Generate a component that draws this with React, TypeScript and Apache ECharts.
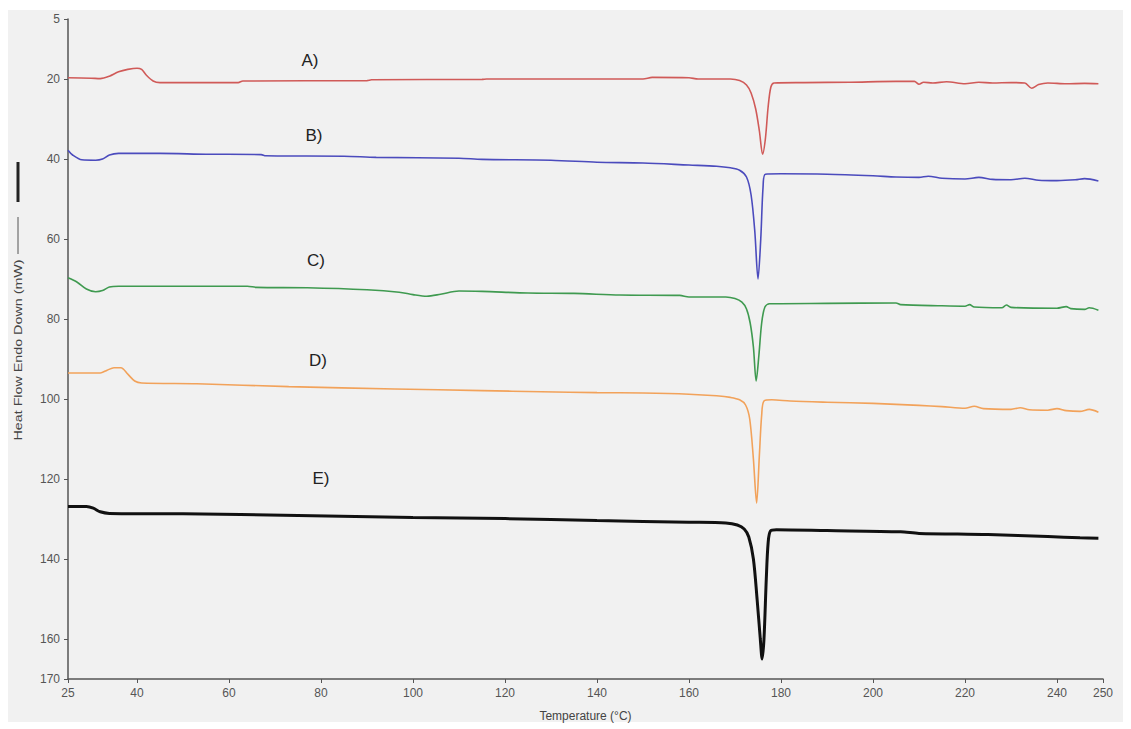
import React, { useEffect, useRef } from "react";
import * as echarts from "echarts";

const xTicks = [25, 40, 60, 80, 100, 120, 140, 160, 180, 200, 220, 240, 250];
const yTicks = [5, 20, 40, 60, 80, 100, 120, 140, 160, 170];

const seriesA: [number, number][] = [
  [25, 19.7], [30, 19.8], [32, 19.9], [34, 19.3], [36, 18.2], [38, 17.6], [40, 17.3], [41, 17.6],
  [42, 19.0], [43.5, 20.5], [45, 20.9], [55, 20.9], [62, 20.9], [63, 20.5], [90, 20.4], [91, 20.2],
  [115, 20.1], [116, 20.0], [150, 20.0], [152, 19.6], [160, 19.7], [162, 20.0], [169, 20.0],
  [171, 20.4], [172.5, 21.5], [173.5, 23.5], [174.5, 27.5], [175.3, 33], [176, 38.8], [176.6, 35],
  [177.2, 27], [177.8, 22], [178.5, 21.0], [185, 20.9], [195, 20.8], [205, 20.6], [209, 20.6],
  [210, 21.3], [211, 20.8], [213, 21.0], [216, 20.7], [220, 21.2], [223, 20.8], [226, 21.0],
  [230, 20.9], [233, 21.0], [234.5, 22.3], [236, 21.4], [238, 21.0], [242, 21.2], [246, 21.1], [249, 21.2],
];

const seriesB: [number, number][] = [
  [25, 37.8], [26, 39.0], [28, 40.2], [31, 40.3], [32.5, 40.0], [34, 39.0], [36, 38.6], [45, 38.6],
  [55, 38.8], [67, 38.9], [68, 39.2], [85, 39.3], [92, 39.6], [110, 39.8], [115, 40.1], [130, 40.3],
  [140, 40.8], [150, 41.0], [160, 41.5], [166, 41.8], [169, 42.2], [171, 42.8], [172.5, 44.5],
  [173.5, 49], [174.3, 58], [175, 70], [175.6, 60], [176.1, 47], [176.6, 43.8], [180, 43.7],
  [190, 43.8], [200, 44.2], [205, 44.5], [210, 44.6], [212, 44.3], [215, 44.8], [220, 45.0],
  [223, 44.6], [226, 45.1], [230, 45.2], [233, 44.8], [236, 45.3], [240, 45.4], [244, 45.2],
  [246, 44.9], [249, 45.5],
];

const seriesC: [number, number][] = [
  [25, 69.7], [27, 70.8], [29, 72.5], [31, 73.2], [32.5, 72.9], [34, 72.0], [36, 71.8], [50, 71.8],
  [64, 71.8], [66, 72.1], [77, 72.2], [90, 72.7], [97, 73.3], [100, 73.9], [103, 74.3], [106, 73.8],
  [110, 73.0], [115, 73.1], [125, 73.5], [135, 73.6], [145, 74.0], [158, 74.1], [160, 74.5],
  [168, 74.5], [170, 74.9], [171.5, 75.8], [172.5, 77.5], [173.3, 81], [174, 87], [174.6, 95.5],
  [175.2, 89], [175.8, 81], [176.5, 77.0], [177.5, 76.2], [190, 76.1], [205, 76.0], [206, 76.4],
  [215, 76.7], [220, 76.8], [221, 76.4], [222, 77.0], [228, 77.2], [229, 76.5], [230, 77.1],
  [240, 77.3], [242, 76.9], [243, 77.4], [246, 77.6], [247, 77.2], [249, 77.8],
];

const seriesD: [number, number][] = [
  [25, 93.5], [32, 93.5], [33.5, 92.8], [35, 92.2], [36.5, 92.2], [38, 93.8], [39.5, 95.5], [41, 96.0],
  [53, 96.2], [73, 96.9], [96, 97.5], [115, 97.9], [128, 98.2], [140, 98.4], [150, 98.5], [160, 98.8],
  [166, 99.2], [169, 99.6], [171, 100.2], [172.3, 101.5], [173.2, 105], [174, 115], [174.7, 126],
  [175.3, 114], [175.8, 104], [176.3, 100.5], [178, 100.2], [182, 100.5], [190, 100.8], [200, 101.1],
  [210, 101.6], [215, 101.9], [220, 102.3], [222, 101.8], [224, 102.4], [230, 102.6], [232, 102.2],
  [234, 102.7], [238, 102.8], [240, 102.4], [242, 102.9], [245, 103.1], [247, 102.6], [249, 103.3],
];

const seriesE: [number, number][] = [
  [25, 126.9], [29, 126.9], [30.5, 127.3], [32, 128.2], [34, 128.6], [50, 128.7], [75, 129.1],
  [100, 129.6], [120, 129.9], [140, 130.4], [160, 130.8], [168, 131.0], [170.5, 131.5], [172, 132.5],
  [173, 134.5], [174, 140], [174.8, 150], [175.5, 160], [175.9, 165], [176.3, 160], [176.8, 145],
  [177.2, 136], [177.7, 133], [179, 132.7], [190, 132.9], [206, 133.2], [210, 133.6], [225, 133.9],
  [238, 134.4], [245, 134.7], [249, 134.8],
];

const curveNames = ["A)", "B)", "C)", "D)", "E)"];
const curveColors = ["#d05a58", "#4b4bbd", "#3f9a50", "#f2a25a", "#111111"];
const curveWidths = [1.6, 1.6, 1.6, 1.6, 3];
const curveData = [seriesA, seriesB, seriesC, seriesD, seriesE];

export default function App() {
  const ref = useRef<HTMLDivElement>(null);
  useEffect(() => {
    if (!ref.current) return;
    const chart = echarts.init(ref.current, undefined, { renderer: "svg" });
    const labelPos = [
      [310, 60],
      [314, 135],
      [316, 260],
      [318, 360],
      [321, 478],
    ];
    chart.setOption({
      animation: false,
      backgroundColor: "#ffffff",
      grid: { left: 68, right: 28, top: 19, bottom: 50, containLabel: false },
      graphic: [
        {
          type: "rect",
          z: -10,
          silent: true,
          shape: { x: 8, y: 10, width: 1115, height: 712 },
          style: { fill: "#f1f1f1" },
        },
        ...curveNames.map((n, i) => ({
          type: "text",
          x: labelPos[i][0],
          y: labelPos[i][1],
          style: {
            text: n,
            fill: "#222",
            font: "17px 'Liberation Sans', Arial, sans-serif",
            align: "center",
            verticalAlign: "middle",
          },
        })),
        {
          type: "text",
          x: 18,
          y: 350,
          rotation: Math.PI / 2,
          scaleX: 1.3,
          style: {
            text: "Heat Flow Endo Down (mW)",
            fill: "#444",
            font: "11px 'Liberation Sans', Arial, sans-serif",
            align: "center",
            verticalAlign: "middle",
          },
        },
        {
          type: "rect",
          shape: { x: 16.5, y: 162, width: 3, height: 40 },
          style: { fill: "#222" },
        },
        {
          type: "line",
          shape: { x1: 18, y1: 217, x2: 18, y2: 254 },
          style: { stroke: "#555", lineWidth: 1 },
        },
      ],
      xAxis: {
        type: "value",
        min: 25,
        max: 250,
        name: "Temperature (°C)",
        nameLocation: "middle",
        nameGap: 31,
        nameTextStyle: { color: "#444", fontSize: 12, fontFamily: "'Liberation Sans', Arial, sans-serif" },
        axisLine: { show: true, lineStyle: { color: "#555", width: 1.5 } },
        axisTick: { show: true, customValues: xTicks, length: 4, inside: false, lineStyle: { color: "#555" } },
        axisLabel: {
          customValues: xTicks,
          color: "#555",
          fontSize: 12,
          margin: 8,
          fontFamily: "'Liberation Sans', Arial, sans-serif",
          showMinLabel: true,
          showMaxLabel: true,
        },
        splitLine: { show: false },
      },
      yAxis: {
        type: "value",
        min: 5,
        max: 170,
        inverse: true,
        axisLine: { show: true, lineStyle: { color: "#555", width: 1.5 } },
        axisTick: { show: true, customValues: yTicks, length: 4, lineStyle: { color: "#555" } },
        axisLabel: {
          customValues: yTicks,
          color: "#555",
          fontSize: 12,
          margin: 8,
          fontFamily: "'Liberation Sans', Arial, sans-serif",
          showMinLabel: true,
          showMaxLabel: true,
        },
        splitLine: { show: false },
      },
      series: curveData.map((d, i) => ({
        type: "line",
        name: curveNames[i],
        data: d,
        showSymbol: false,
        symbol: "none",
        smooth: 0.3,
        lineStyle: { color: curveColors[i], width: curveWidths[i] },
        itemStyle: { color: curveColors[i] },
        z: 5,
      })),
    });
    return () => chart.dispose();
  }, []);
  return (
    <div
      ref={ref}
      style={{ position: "absolute", left: 0, top: 0, width: 1131, height: 729 }}
    />
  );
}
